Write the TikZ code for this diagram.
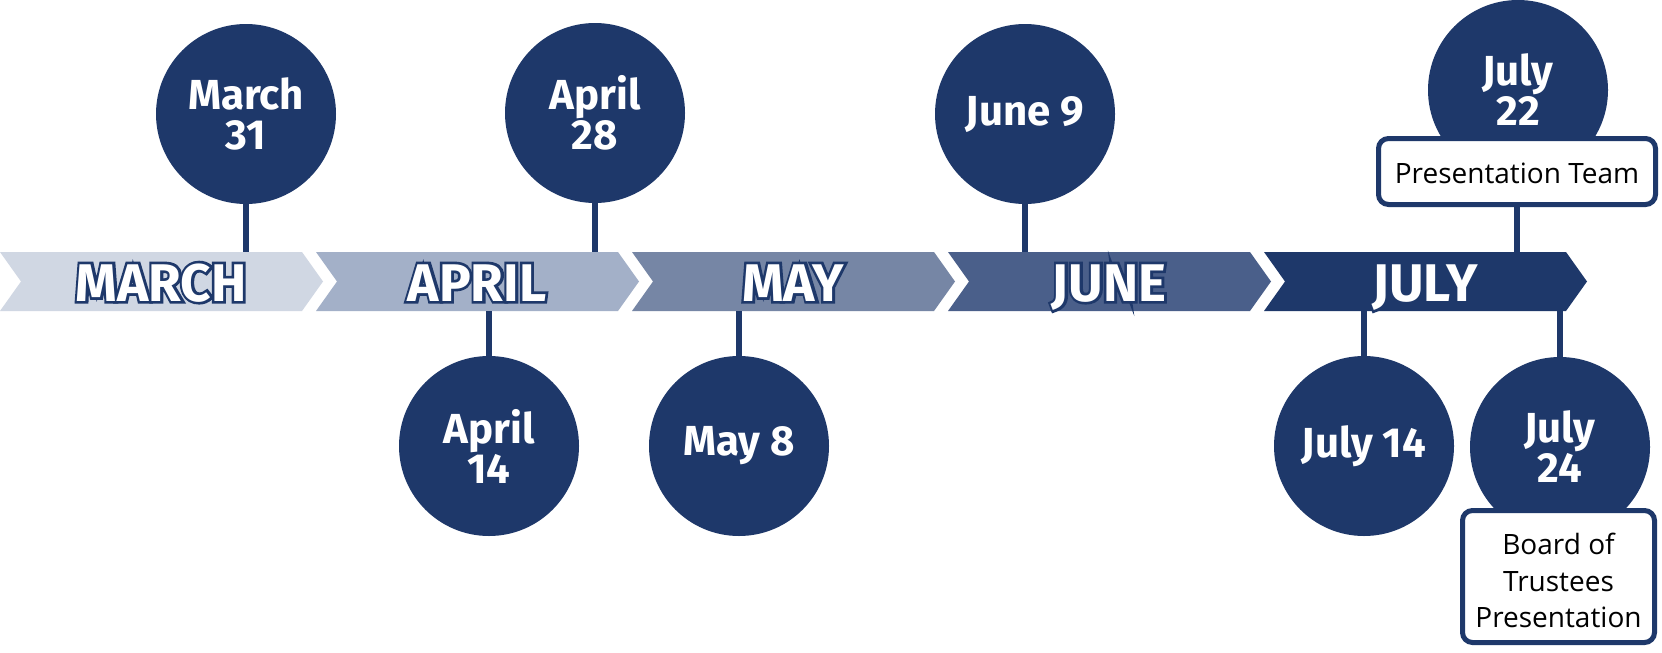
\documentclass[tikz,border=0pt]{standalone}
\usepackage{fontspec}
\setmainfont{Fira Sans}
\newfontfamily\boxfont{Open Sans}
\font\monthfnt="Fira Sans/B" at 53pt
\font\monthfntO="Fira Sans/B:embolden=10" at 53pt
\definecolor{navy}{RGB}{30,56,106}
\definecolor{cMar}{RGB}{208,215,227}
\definecolor{cApr}{RGB}{163,176,200}
\definecolor{cMay}{RGB}{118,134,165}
\definecolor{cJun}{RGB}{74,95,138}
\definecolor{cJul}{RGB}{30,56,106}
\begin{document}
\begin{tikzpicture}[x=1pt,y=-1pt,
  date/.style={circle, fill=navy, minimum size=180pt, inner sep=0pt, text=white,
    font=\fontsize{42}{40}\selectfont\bfseries, align=center},
  conn/.style={draw=navy, line width=6.5pt},
  note/.style={draw=navy, line width=5pt, fill=white, rounded corners=10pt,
    font=\boxfont\fontsize{28}{36.5}\selectfont, align=center, text=black, inner sep=0pt},
  month/.style={text=white, inner sep=0pt, anchor=base, font=\monthfnt},
  monthline/.style={text=navy, inner sep=0pt, anchor=base, font=\monthfntO}
]
\useasboundingbox (0,0) rectangle (1662,653);
\fill[white] (0,0) rectangle (1662,653);
\coordinate (bt) at (0,252);
\coordinate (bb) at (0,311);
% chevrons
\foreach \i/\c/\m in {0/cMar/MARCH,1/cApr/APRIL,2/cMay/MAY,3/cJun/JUNE,4/cJul/JULY}{
  \fill[\c] (316*\i,252) -- ++(302,0) -- ++(21,29.5) -- ++(-21,29.5) -- ++(-302,0) -- ++(21,-29.5) -- cycle;
  \node[monthline] (o\i) at (316*\i+161,301) {\m};
  \node[month] (m\i) at (o\i.base) {\m};
}
% date circles
\node[date] (d1) at (246,114) {March\\31};
\node[date] (d2) at (595,113) {April\\28};
\node[date] (d3) at (1025,114) {June 9};
\node[date] (d4) at (1518,90) {July\\22};
\node[date] (d5) at (489,446) {April\\14};
\node[date] (d6) at (739,446) {May 8};
\node[date] (d7) at (1364,446) {July 14};
\node[date] (d8) at (1560,447) {July\\24};
% connectors
\draw[conn] (d1.south) -- (d1.south |- bt);
\draw[conn] (d2.south) -- (d2.south |- bt);
\draw[conn] (d3.south) -- (d3.south |- bt);
\draw[conn] (d5.north) -- (d5.north |- bb);
\draw[conn] (d6.north) -- (d6.north |- bb);
\draw[conn] (d7.north) -- (d7.north |- bb);
\draw[conn] (d8.north) -- (d8.north |- bb);
% notes
\node[note, minimum width=277pt, minimum height=66pt] (n1) at (1517,171.5) {\rule{0pt}{24pt}Presentation Team};
\draw[conn] (n1.south) -- (n1.south |- bt);
\node[note, minimum width=192pt, minimum height=132pt] (n2) at (1558.5,576.5) {\rule{0pt}{30pt}Board of\\Trustees\\Presentation};
\end{tikzpicture}
\end{document}
